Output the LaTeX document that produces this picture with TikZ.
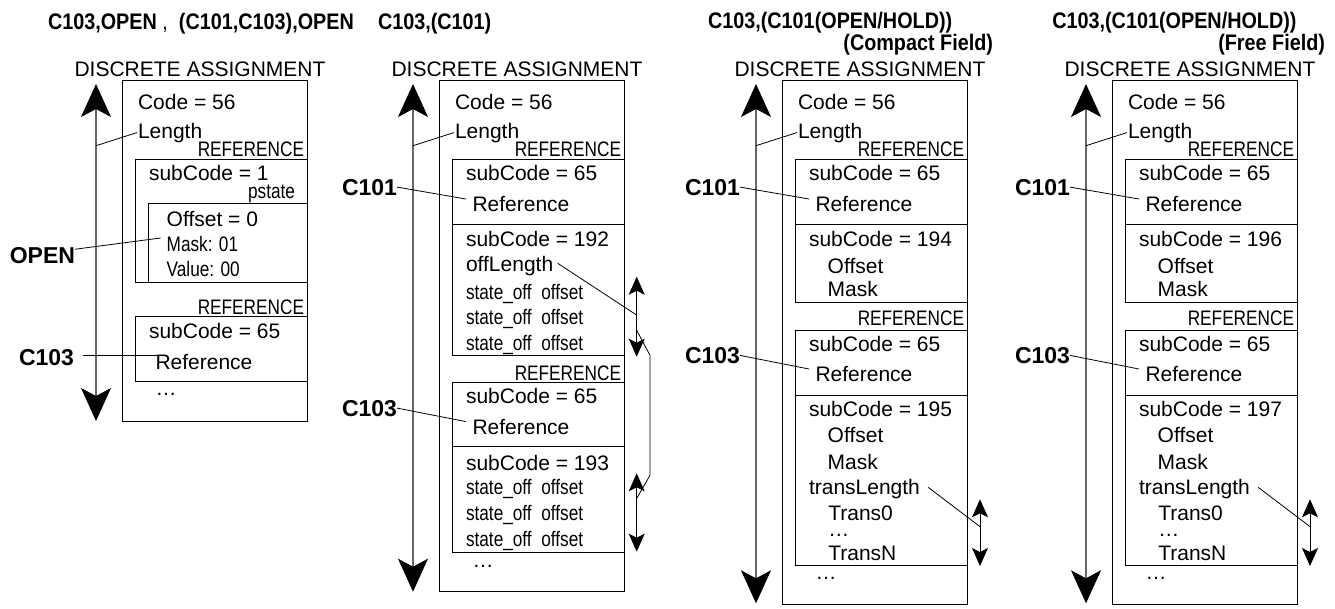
\documentclass[tikz,border=0pt]{standalone}
\usepackage{fontspec}
\setmainfont{Liberation Sans}
\newfontfamily\narrowfont[FakeStretch=0.82]{Liberation Sans}
\newfontfamily\condfont[FakeStretch=0.88]{Liberation Sans}
\usetikzlibrary{arrows.meta,calc}
\tikzset{
  every node/.style={inner sep=0pt, outer sep=0pt},
  txt/.style={anchor=base west, font=\fontsize{21}{25}\selectfont},
  ctxt/.style={anchor=base, font=\fontsize{21}{25}\selectfont},
  ntxt/.style={anchor=base west, font=\narrowfont\fontsize{21}{25}\selectfont},
  rtxt/.style={anchor=base east, font=\narrowfont\fontsize{21}{25}\selectfont},
  lbl/.style={anchor=base east, font=\bfseries\fontsize{23}{27}\selectfont},
  ttl/.style={anchor=base west, font=\condfont\bfseries\fontsize{22.5}{26}\selectfont},
  ttlr/.style={anchor=base east, font=\condfont\bfseries\fontsize{22.5}{26}\selectfont},
  box/.style={draw=black, line width=1pt},
  conn/.style={draw=black, line width=0.8pt},
  bigarrow/.style={draw=black!60, line width=1.2pt,
    {Stealth[length=33pt,width=30pt,inset=8pt,color=black]}-{Stealth[length=33pt,width=30pt,inset=8pt,color=black]}},
  smallarrow/.style={draw=black, line width=1pt,
    {Stealth[length=18pt,width=16pt,inset=4pt]}-{Stealth[length=18pt,width=16pt,inset=4pt]}},
}
\newcommand\daframe[3]{%
  \node[ctxt] (#1da) at (200,76) {DISCRETE ASSIGNMENT};
  \draw[box] (122.3,80.7) rectangle (307,#2);
  \coordinate (#1at) at (96,84);
  \coordinate (#1ab) at (96,#3);
  \draw[bigarrow] (#1at) -- (#1ab);
  \node[txt] (#1code) at (138,109) {Code = 56};
  \node[txt] (#1len) at (138,138) {Length};
  \coordinate (#1al) at (96,145.7);
  \draw[conn] (#1al) -- ([xshift=-1pt]#1len.west);
  \node[rtxt] (#1refA) at (304,156.7) {REFERENCE};
}
\newcommand\refblock[5]{%
  \draw[box] (135.3,#2) rectangle (307,#3);
  \node[txt] (#1sc) at (149,#4) {subCode = 65};
  \node[txt] (#1ref) at (155.5,#5) {Reference};
}
\begin{document}
\begin{tikzpicture}[x=1pt,y=-1pt]
\useasboundingbox (0,0) rectangle (1335,608);
% ---------------- Panel 1
\begin{scope}
  \node[ttl] (At) at (48,29.5) {C103,OPEN {\mdseries ,}\ \ (C101,C103),OPEN};
  \daframe{A}{421}{421}
  \draw[box] (135.3,159.3) rectangle (307,282.3);
  \node[txt] (Asc1) at (149,180) {subCode = 1};
  \node[rtxt] (Apst) at (295,198) {pstate};
  \draw[box] (148.3,203.3) rectangle (307,282.3);
  \node[txt] (Aoff) at (166.7,226) {Offset = 0};
  \node[ntxt] (Amask) at (166.7,251.7) {Mask: 01};
  \node[ntxt] (Aval) at (166.7,276.7) {Value: 00};
  \node[lbl] (Aopen) at (75,263.3) {OPEN};
  \draw[conn] ([yshift=-2pt]Aopen.north east) -- ([xshift=-6pt,yshift=-1.5pt]Amask.north west);
  \node[rtxt] (ArefB) at (304,314) {REFERENCE};
  \refblock{AB}{316.7}{381.7}{338.3}{369}
  \node[lbl] (AC103) at (74,365) {C103};
  \draw[conn] ([xshift=9pt,yshift=1.5pt]AC103.east) -- ([xshift=9pt,yshift=1.5pt]AC103.east -| ABref.west) -- +(-6.5,0);
  \node[txt] (Adots) at (155.5,395) {…};
\end{scope}
% ---------------- Panel 2
\begin{scope}[xshift=317pt]
  \node[ttl] (Bt) at (61,29.5) {C103,(C101)};
  \daframe{B}{591.7}{591.7}
  \refblock{BA}{159.3}{224}{180}{211.7}
  \node[lbl] (BC101) at (80,195) {C101};
  \draw[conn] (BC101.east) -- ([xshift=-6.5pt,yshift=-2.5pt]BAref.north west);
  \draw[box] (135.3,224) rectangle (307,355);
  \node[txt] (Bsc192) at (149,246) {subCode = 192};
  \node[txt] (Boffl) at (149,271.7) {offLength};
  \node[ntxt] (Bs1) at (149,299) {state\_off\ \ offset};
  \node[ntxt] (Bs2) at (149,324.5) {state\_off\ \ offset};
  \node[ntxt] (Bs3) at (149,350) {state\_off\ \ offset};
  \coordinate (Bd1t) at (319.7,276.7);
  \coordinate (Bd1b) at (319.7,356.7);
  \draw[smallarrow] (Bd1t) -- (Bd1b);
  \draw[conn] ([xshift=4.5pt,yshift=3pt]Boffl.east) -- ($(Bd1t)!0.48!(Bd1b)$);
  \node[rtxt] (BrefB) at (304,380) {REFERENCE};
  \refblock{BB}{382.3}{446.7}{403.3}{434.3}
  \node[lbl] (BC103) at (80,416) {C103};
  \draw[conn] (BC103.east) -- ([xshift=-6.5pt,yshift=-2.5pt]BBref.north west);
  \draw[box] (135.3,446.7) rectangle (307,552.3);
  \node[txt] (Bsc193) at (149,470) {subCode = 193};
  \node[ntxt] (Bs4) at (149,494.5) {state\_off\ \ offset};
  \node[ntxt] (Bs5) at (149,520.5) {state\_off\ \ offset};
  \node[ntxt] (Bs6) at (149,546.5) {state\_off\ \ offset};
  \coordinate (Bd2t) at (319.7,473.3);
  \coordinate (Bd2b) at (319.7,551.7);
  \draw[smallarrow] (Bd2t) -- (Bd2b);
  \draw[conn] ($(Bd1t)!0.67!(Bd1b)$) -- ++(13.3,25) -- ++(0,120) -- ($(Bd2t)!0.32!(Bd2b)$);
  \node[txt] (Bdots) at (155.5,567) {…};
\end{scope}
% ---------------- Panel 3
\begin{scope}[xshift=660pt]
  \node[ttl] (Ct) at (48,28.5) {C103,(C101(OPEN/HOLD))};
  \node[ttlr] (Ct2) at (333,50) {(Compact Field)};
  \daframe{C}{604.3}{603.3}
  \refblock{CA}{159.3}{224}{180}{211.7}
  \node[lbl] (CC101) at (80,195) {C101};
  \draw[conn] (CC101.east) -- ([xshift=-6.5pt,yshift=-2.5pt]CAref.north west);
  \draw[box] (135.3,224) rectangle (307,302.7);
  \node[txt] (Csc194) at (149,246) {subCode = 194};
  \node[txt] (Coff1) at (167.7,273.3) {Offset};
  \node[txt] (Cmask1) at (167.7,296.7) {Mask};
  \node[rtxt] (CrefB) at (304,325) {REFERENCE};
  \refblock{CB}{330}{395}{351.7}{381.7}
  \node[lbl] (CC103) at (80,363.3) {C103};
  \draw[conn] (CC103.east) -- ([xshift=-6.5pt,yshift=-2.5pt]CBref.north west);
  \draw[box] (135.3,395) rectangle (307,565.7);
  \node[txt] (Csc195) at (149,416) {subCode = 195};
  \node[txt] (Coff2) at (167.7,442.7) {Offset};
  \node[txt] (Cmask2) at (167.7,469.3) {Mask};
  \node[txt] (Ctl) at (149,494) {transLength};
  \node[txt] (Ctr0) at (168.3,520.7) {Trans0};
  \node[txt] (Ctrd) at (168.3,536) {…};
  \node[txt] (CtrN) at (168.3,560.7) {TransN};
  \coordinate (Cdt) at (320,499.3);
  \coordinate (Cdb) at (320,566);
  \draw[smallarrow] (Cdt) -- (Cdb);
  \draw[conn] ([xshift=8.4pt,yshift=1.2pt]Ctl.east) -- ($(Cdt)!0.41!(Cdb)$);
  \node[txt] (Cdots) at (155.5,579) {…};
\end{scope}
% ---------------- Panel 4
\begin{scope}[xshift=990pt]
  \node[ttl] (Dt) at (62.3,28.5) {C103,(C101(OPEN/HOLD))};
  \node[ttlr] (Dt2) at (335,50) {(Free Field)};
  \daframe{D}{604.3}{603.3}
  \refblock{DA}{159.3}{224}{180}{211.7}
  \node[lbl] (DC101) at (80,195) {C101};
  \draw[conn] (DC101.east) -- ([xshift=-6.5pt,yshift=-2.5pt]DAref.north west);
  \draw[box] (135.3,224) rectangle (307,302.7);
  \node[txt] (Dsc196) at (149,246) {subCode = 196};
  \node[txt] (Doff1) at (167.7,273.3) {Offset};
  \node[txt] (Dmask1) at (167.7,296.7) {Mask};
  \node[rtxt] (DrefB) at (304,325) {REFERENCE};
  \refblock{DB}{330}{395}{351.7}{381.7}
  \node[lbl] (DC103) at (80,363.3) {C103};
  \draw[conn] (DC103.east) -- ([xshift=-6.5pt,yshift=-2.5pt]DBref.north west);
  \draw[box] (135.3,395) rectangle (307,565.7);
  \node[txt] (Dsc197) at (149,416) {subCode = 197};
  \node[txt] (Doff2) at (167.7,442.7) {Offset};
  \node[txt] (Dmask2) at (167.7,469.3) {Mask};
  \node[txt] (Dtl) at (149,494) {transLength};
  \node[txt] (Dtr0) at (168.3,520.7) {Trans0};
  \node[txt] (Dtrd) at (168.3,536) {…};
  \node[txt] (DtrN) at (168.3,560.7) {TransN};
  \coordinate (Ddt) at (320,499.3);
  \coordinate (Ddb) at (320,566);
  \draw[smallarrow] (Ddt) -- (Ddb);
  \draw[conn] ([xshift=8.4pt,yshift=1.2pt]Dtl.east) -- ($(Ddt)!0.41!(Ddb)$);
  \node[txt] (Ddots) at (155.5,579) {…};
\end{scope}
\end{tikzpicture}
\end{document}
